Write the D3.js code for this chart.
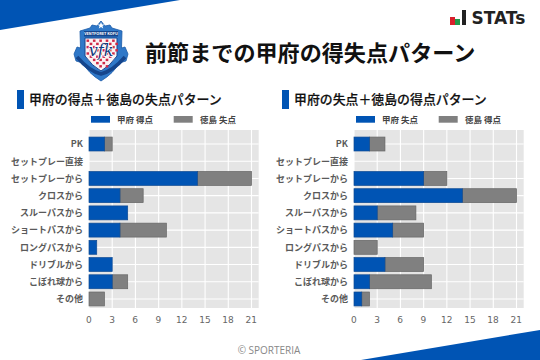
<!DOCTYPE html>
<html>
<head>
<meta charset="utf-8">
<script src="https://cdn.jsdelivr.net/npm/d3@7/dist/d3.min.js"></script>
<style>
html, body { margin: 0; padding: 0; background: #fff; }
svg { display: block; }
text { font-family: "Noto Sans CJK JP", "Noto Sans", sans-serif; }
</style>
</head>
<body>
<div id="chart"></div>
<script>
// chart data
var categories = ["PK", "セットプレー直接", "セットプレーから", "クロスから", "スルーパスから", "ショートパスから", "ロングパスから", "ドリブルから", "こぼれ球から", "その他"];
var kofuGoals = [2, 0, 14, 4, 5, 4, 1, 3, 3, 0];
var tokushimaConceded = [1, 0, 7, 3, 0, 6, 0, 0, 2, 2];
var kofuConceded = [2, 0, 9, 14, 3, 5, 0, 4, 2, 1];
var tokushimaGoals = [2, 0, 3, 7, 5, 4, 3, 5, 8, 1];
var ticks = [0, 3, 6, 9, 12, 15, 18, 21];

var BLUE = "#0054b4";
var GREY = "#808080";

var svg = d3.select("#chart").append("svg").attr("width", 540).attr("height", 360);
var line = d3.line().curve(d3.curveLinearClosed);

// corner wedges
svg.append("path").attr("d", line([[0, 0], [180, 0], [0, 30]])).attr("fill", BLUE);
svg.append("path").attr("d", line([[540, 330], [540, 360], [361, 360]])).attr("fill", BLUE);

// club badge
var badge = svg.append("g").attr("transform", "translate(101,51)");
var shield = "M0,-30 L4,-25 L9,-26 L11,-23 L21,-20 L20.5,-3 L24,-4 L27,3 L25,10 L18,12 Q13,22 0,30 Q-13,22 -18,12 L-25,10 L-27,3 L-24,-4 L-20.5,-3 L-21,-20 L-11,-23 L-9,-26 L-4,-25 Z";
badge.append("path").attr("d", shield).attr("fill", "#2f78c8").attr("stroke", "#1b5aa8").attr("stroke-width", 0.8);
badge.append("path")
    .attr("d", "M-16,-13 L16,-13 L16,5 Q9,15 0,20 Q-9,15 -16,5 Z")
    .attr("fill", "#fbf3f4").attr("stroke", "#17478f").attr("stroke-width", 1);
d3.range(9).forEach((r) => {
    d3.range(10).forEach((c) => {
        var cx = -14.5 + c * 3.2, cy = -11.5 + r * 3.2;
        if ((r + c) % 2 == 0 && Math.abs(cx) < 15 - Math.max(0, cy - 3) * 0.9) {
            badge.append("rect").attr("x", cx).attr("y", cy).attr("width", 2.6).attr("height", 2.4).attr("fill", "#cf2a48");
        }
    });
});
badge.append("rect").attr("x", -17).attr("y", -20).attr("width", 34).attr("height", 5.5).attr("fill", "#15458c");
badge.append("text").attr("y", -15.8).attr("text-anchor", "middle").attr("font-size", 3.8).attr("font-weight", 700).attr("fill", "#fff").text("VENTFORET KOFU");
badge.append("text").attr("y", 5).attr("text-anchor", "middle").attr("font-size", 16).style("font-family", "DejaVu Serif").attr("font-style", "italic")
    .attr("fill", "#123a7c").attr("stroke", "#fff").attr("stroke-width", 1.4).attr("paint-order", "stroke").text("vfk");
badge.append("path").attr("d", "M-24,6 Q-12,20 0,23 Q12,20 24,6").attr("fill", "none").attr("stroke", "#15458c").attr("stroke-width", 3.5);
badge.append("path").attr("d", "M0,-29 L1,-26.5 L3.5,-26.5 L1.5,-25 L2.2,-22.5 L0,-24 L-2.2,-22.5 L-1.5,-25 L-3.5,-26.5 L-1,-26.5 Z").attr("fill", "#fff");

// title
svg.append("text").attr("x", 145).attr("y", 61).attr("font-size", 22.1).attr("font-weight", 700).attr("fill", "#111").text("前節までの甲府の得失点パターン");

// STATs mark
svg.append("rect").attr("x", 450).attr("y", 17).attr("width", 5).attr("height", 8).attr("fill", "#d8202c");
svg.append("rect").attr("x", 455).attr("y", 19).attr("width", 5).attr("height", 6).attr("fill", "#1f9a4a");
svg.append("rect").attr("x", 462).attr("y", 10).attr("width", 4).attr("height", 15).attr("fill", "#222");
svg.append("text").attr("x", 471.5).attr("y", 24.3).attr("font-size", 17).attr("font-weight", 700).style("font-family", "DejaVu Sans").attr("fill", "#222").text("STATs");

// footer
svg.append("text").attr("x", 269).attr("y", 354).attr("text-anchor", "middle").attr("font-size", 10).attr("fill", "#888").style("font-family", "Open Sans").text("© SPORTERIA");

function drawPanel({ left, heading, blueName, greyName, blueValues, greyValues, keyX } = {}) {
    var g = svg.append("g");
    var plotLeft = left + 72;
    var plotRight = plotLeft + 169.7;
    var top = 130, bottom = 308;

    var x = d3.scaleLinear().domain([0, 21]).range([plotLeft, plotLeft + 162.5]);
    var y = d3.scaleBand().domain(categories).range([top + 5.5, bottom - 0.5]).paddingInner(0.19).paddingOuter(0.09);

    // heading
    g.append("rect").attr("x", left).attr("y", 90).attr("width", 7).attr("height", 19).attr("fill", BLUE);
    g.append("text").attr("x", left + 12).attr("y", 103.8).attr("font-size", 12.9).attr("font-weight", 500)
        .attr("stroke", "#111").attr("stroke-width", 0.2).attr("fill", "#111").text(heading);

    // legend
    g.append("rect").attr("x", keyX).attr("y", 116).attr("width", 19).attr("height", 6.7).attr("fill", BLUE);
    g.append("text").attr("x", keyX + 26).attr("y", 123).attr("font-size", 8.5).attr("font-weight", 700).attr("fill", "#444").text(blueName);
    g.append("rect").attr("x", keyX + 82.7).attr("y", 116).attr("width", 19).attr("height", 6.7).attr("fill", GREY);
    g.append("text").attr("x", keyX + 109).attr("y", 123).attr("font-size", 8.5).attr("font-weight", 700).attr("fill", "#444").text(greyName);

    // plot background and grid
    g.append("rect").attr("x", plotLeft).attr("y", top).attr("width", plotRight - plotLeft).attr("height", bottom - top).attr("fill", "#e5e5e5");
    g.selectAll(".grid-x").data(ticks).join("line").attr("class", "grid-x")
        .attr("x1", (d) => x(d)).attr("x2", (d) => x(d)).attr("y1", top).attr("y2", bottom)
        .attr("stroke", "#fff").attr("stroke-width", 1.1);
    g.selectAll(".grid-y").data(categories).join("line").attr("class", "grid-y")
        .attr("x1", plotLeft).attr("x2", plotRight)
        .attr("y1", (d) => y(d) + y.bandwidth() / 2).attr("y2", (d) => y(d) + y.bandwidth() / 2)
        .attr("stroke", "#fff").attr("stroke-width", 1.1);

    // stacked bars
    var rows = categories.map((name, i) => ({ name: name, blue: blueValues[i], grey: greyValues[i] }));
    g.selectAll(".bar-grey").data(rows.filter((d) => d.grey > 0)).join("rect").attr("class", "bar-grey")
        .attr("x", (d) => x(d.blue)).attr("y", (d) => y(d.name))
        .attr("width", (d) => x(d.blue + d.grey) - x(d.blue)).attr("height", y.bandwidth())
        .attr("fill", GREY).attr("stroke", "#666").attr("stroke-width", 0.7);
    g.selectAll(".bar-blue").data(rows.filter((d) => d.blue > 0)).join("rect").attr("class", "bar-blue")
        .attr("x", x(0)).attr("y", (d) => y(d.name))
        .attr("width", (d) => x(d.blue) - x(0)).attr("height", y.bandwidth())
        .attr("fill", BLUE).attr("stroke", "#0f4a92").attr("stroke-width", 0.7);

    // axes
    var xAxis = g.append("g").attr("transform", `translate(-0.7,${bottom})`)
        .call(d3.axisBottom(x).tickValues(ticks).tickSize(0).tickPadding(9));
    xAxis.select(".domain").remove();
    xAxis.selectAll("text").attr("font-size", 9).attr("fill", "#666").style("font-family", "DejaVu Sans");

    var yAxis = g.append("g").attr("transform", `translate(${plotLeft},0.4)`)
        .call(d3.axisLeft(y).tickSize(0).tickPadding(6));
    yAxis.select(".domain").remove();
    yAxis.selectAll("text").attr("font-size", 9).attr("font-weight", 700).attr("fill", "#5a5a5a").style("font-family", '"Noto Sans CJK JP"');
}

drawPanel({ left: 17, heading: "甲府の得点＋徳島の失点パターン", blueName: "甲府 得点", greyName: "徳島 失点", blueValues: kofuGoals, greyValues: tokushimaConceded, keyX: 91 });
drawPanel({ left: 282, heading: "甲府の失点＋徳島の得点パターン", blueName: "甲府 失点", greyName: "徳島 得点", blueValues: kofuConceded, greyValues: tokushimaGoals, keyX: 356 });
</script>
</body>
</html>
